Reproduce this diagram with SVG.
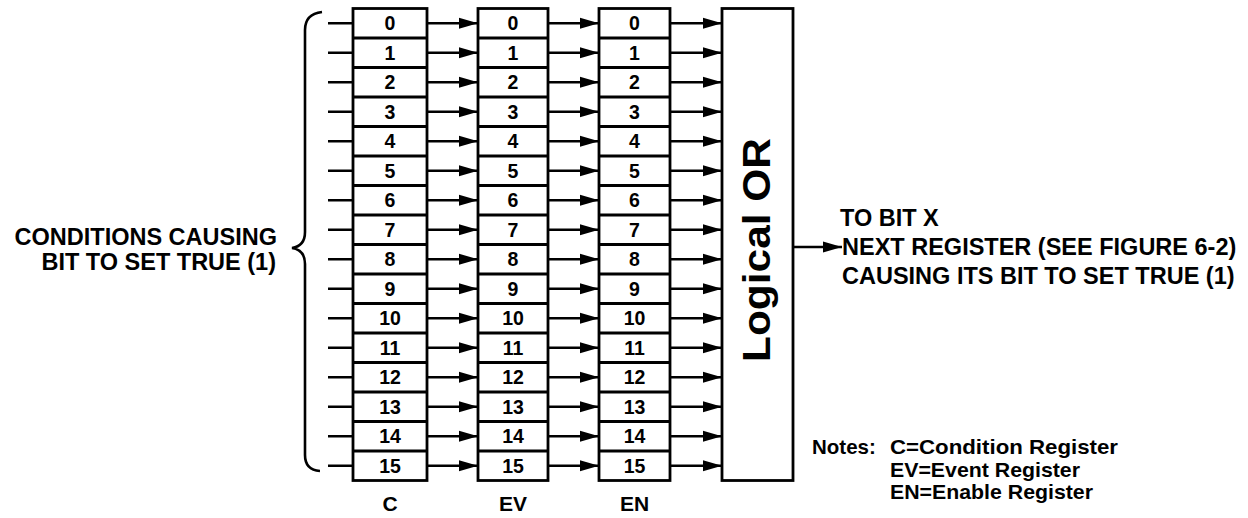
<svg xmlns="http://www.w3.org/2000/svg" width="1248" height="518" viewBox="0 0 1248 518">
<style>
.box{fill:#fff;stroke:#000;stroke-width:2.8}
.div{fill:none;stroke:#000;stroke-width:2.8}
.ln{fill:none;stroke:#000;stroke-width:2.6}
.arr{fill:none;stroke:#000;stroke-width:2.6;marker-end:url(#ah)}
text{font-family:"Liberation Sans",Arial,Helvetica,sans-serif;font-weight:bold;fill:#000}
.dg{font-size:19.5px;text-anchor:middle}
.lb{font-size:21px;text-anchor:middle}
.big{font-size:23.5px}
.note{font-size:20.5px}
</style>
<defs>
<marker id="ah" markerUnits="userSpaceOnUse" markerWidth="22" markerHeight="14" refX="19" refY="6" orient="auto">
<path d="M0,0.5 L19,6 L0,11.5 Z" fill="#000"/>
</marker>
</defs>
<rect width="1248" height="518" fill="#fff"/>

<g id="conditions-label">
<text class="big" x="277" y="245" text-anchor="end">CONDITIONS CAUSING</text>
<text class="big" x="276" y="270" text-anchor="end">BIT TO SET TRUE (1)</text>
</g>

<g id="brace">
<path class="ln" d="M322,12 Q305,14 305,30 L305,232 Q305,246 292,248 Q305,250 305,264 L305,455 Q305,470 320,471"/>
</g>

<g id="register-C">
<rect class="box" x="353" y="8.5" width="74" height="472"/>
<path class="div" d="M353,38H427M353,67.5H427M353,97H427M353,126.5H427M353,156H427M353,185.5H427M353,215H427M353,244.5H427M353,274H427M353,303.5H427M353,333H427M353,362.5H427M353,392H427M353,421.5H427M353,451H427"/>
<text class="dg" x="390" y="30">0</text><text class="dg" x="390" y="59.5">1</text><text class="dg" x="390" y="89">2</text><text class="dg" x="390" y="118.5">3</text><text class="dg" x="390" y="148">4</text><text class="dg" x="390" y="177.5">5</text><text class="dg" x="390" y="207">6</text><text class="dg" x="390" y="236.5">7</text><text class="dg" x="390" y="266">8</text><text class="dg" x="390" y="295.5">9</text><text class="dg" x="390" y="325">10</text><text class="dg" x="390" y="354.5">11</text><text class="dg" x="390" y="384">12</text><text class="dg" x="390" y="413.5">13</text><text class="dg" x="390" y="443">14</text><text class="dg" x="390" y="472.5">15</text>
<text class="lb" x="390" y="511">C</text>
</g>

<g id="register-EV">
<rect class="box" x="478" y="8.5" width="70" height="472"/>
<path class="div" d="M478,38H548M478,67.5H548M478,97H548M478,126.5H548M478,156H548M478,185.5H548M478,215H548M478,244.5H548M478,274H548M478,303.5H548M478,333H548M478,362.5H548M478,392H548M478,421.5H548M478,451H548"/>
<text class="dg" x="513" y="30">0</text><text class="dg" x="513" y="59.5">1</text><text class="dg" x="513" y="89">2</text><text class="dg" x="513" y="118.5">3</text><text class="dg" x="513" y="148">4</text><text class="dg" x="513" y="177.5">5</text><text class="dg" x="513" y="207">6</text><text class="dg" x="513" y="236.5">7</text><text class="dg" x="513" y="266">8</text><text class="dg" x="513" y="295.5">9</text><text class="dg" x="513" y="325">10</text><text class="dg" x="513" y="354.5">11</text><text class="dg" x="513" y="384">12</text><text class="dg" x="513" y="413.5">13</text><text class="dg" x="513" y="443">14</text><text class="dg" x="513" y="472.5">15</text>
<text class="lb" x="513" y="511">EV</text>
</g>

<g id="register-EN">
<rect class="box" x="599" y="8.5" width="71" height="472"/>
<path class="div" d="M599,38H670M599,67.5H670M599,97H670M599,126.5H670M599,156H670M599,185.5H670M599,215H670M599,244.5H670M599,274H670M599,303.5H670M599,333H670M599,362.5H670M599,392H670M599,421.5H670M599,451H670"/>
<text class="dg" x="634.5" y="30">0</text><text class="dg" x="634.5" y="59.5">1</text><text class="dg" x="634.5" y="89">2</text><text class="dg" x="634.5" y="118.5">3</text><text class="dg" x="634.5" y="148">4</text><text class="dg" x="634.5" y="177.5">5</text><text class="dg" x="634.5" y="207">6</text><text class="dg" x="634.5" y="236.5">7</text><text class="dg" x="634.5" y="266">8</text><text class="dg" x="634.5" y="295.5">9</text><text class="dg" x="634.5" y="325">10</text><text class="dg" x="634.5" y="354.5">11</text><text class="dg" x="634.5" y="384">12</text><text class="dg" x="634.5" y="413.5">13</text><text class="dg" x="634.5" y="443">14</text><text class="dg" x="634.5" y="472.5">15</text>
<text class="lb" x="634.5" y="511">EN</text>
</g>

<g id="logical-or">
<rect class="box" x="722" y="8.5" width="71" height="472"/>
<text transform="translate(770,362) rotate(-90)" x="0" y="0" font-size="39" textLength="224" lengthAdjust="spacingAndGlyphs">Logical OR</text>
</g>

<g id="output-label">
<text class="big" x="840" y="226">TO BIT X</text>
<text class="big" x="842" y="255">NEXT REGISTER (SEE FIGURE 6-2)</text>
<text class="big" x="842" y="284">CAUSING ITS BIT TO SET TRUE (1)</text>
</g>

<g id="notes">
<text class="note" x="812" y="454">Notes:</text>
<text class="note" x="890" y="454" textLength="228" lengthAdjust="spacingAndGlyphs">C=Condition Register</text>
<text class="note" x="890" y="476.5" textLength="190" lengthAdjust="spacingAndGlyphs">EV=Event Register</text>
<text class="note" x="890" y="499" textLength="203" lengthAdjust="spacingAndGlyphs">EN=Enable Register</text>
</g>

<g id="connectors">
<path class="ln" d="M328,23.25H353M328,52.75H353M328,82.25H353M328,111.75H353M328,141.25H353M328,170.75H353M328,200.25H353M328,229.75H353M328,259.25H353M328,288.75H353M328,318.25H353M328,347.75H353M328,377.25H353M328,406.75H353M328,436.25H353M328,465.75H353"/>
<line class="arr" x1="427" y1="23.25" x2="478" y2="23.25"/><line class="arr" x1="427" y1="52.75" x2="478" y2="52.75"/><line class="arr" x1="427" y1="82.25" x2="478" y2="82.25"/><line class="arr" x1="427" y1="111.75" x2="478" y2="111.75"/><line class="arr" x1="427" y1="141.25" x2="478" y2="141.25"/><line class="arr" x1="427" y1="170.75" x2="478" y2="170.75"/><line class="arr" x1="427" y1="200.25" x2="478" y2="200.25"/><line class="arr" x1="427" y1="229.75" x2="478" y2="229.75"/><line class="arr" x1="427" y1="259.25" x2="478" y2="259.25"/><line class="arr" x1="427" y1="288.75" x2="478" y2="288.75"/><line class="arr" x1="427" y1="318.25" x2="478" y2="318.25"/><line class="arr" x1="427" y1="347.75" x2="478" y2="347.75"/><line class="arr" x1="427" y1="377.25" x2="478" y2="377.25"/><line class="arr" x1="427" y1="406.75" x2="478" y2="406.75"/><line class="arr" x1="427" y1="436.25" x2="478" y2="436.25"/><line class="arr" x1="427" y1="465.75" x2="478" y2="465.75"/>
<line class="arr" x1="548" y1="23.25" x2="599" y2="23.25"/><line class="arr" x1="548" y1="52.75" x2="599" y2="52.75"/><line class="arr" x1="548" y1="82.25" x2="599" y2="82.25"/><line class="arr" x1="548" y1="111.75" x2="599" y2="111.75"/><line class="arr" x1="548" y1="141.25" x2="599" y2="141.25"/><line class="arr" x1="548" y1="170.75" x2="599" y2="170.75"/><line class="arr" x1="548" y1="200.25" x2="599" y2="200.25"/><line class="arr" x1="548" y1="229.75" x2="599" y2="229.75"/><line class="arr" x1="548" y1="259.25" x2="599" y2="259.25"/><line class="arr" x1="548" y1="288.75" x2="599" y2="288.75"/><line class="arr" x1="548" y1="318.25" x2="599" y2="318.25"/><line class="arr" x1="548" y1="347.75" x2="599" y2="347.75"/><line class="arr" x1="548" y1="377.25" x2="599" y2="377.25"/><line class="arr" x1="548" y1="406.75" x2="599" y2="406.75"/><line class="arr" x1="548" y1="436.25" x2="599" y2="436.25"/><line class="arr" x1="548" y1="465.75" x2="599" y2="465.75"/>
<line class="arr" x1="670" y1="23.25" x2="722" y2="23.25"/><line class="arr" x1="670" y1="52.75" x2="722" y2="52.75"/><line class="arr" x1="670" y1="82.25" x2="722" y2="82.25"/><line class="arr" x1="670" y1="111.75" x2="722" y2="111.75"/><line class="arr" x1="670" y1="141.25" x2="722" y2="141.25"/><line class="arr" x1="670" y1="170.75" x2="722" y2="170.75"/><line class="arr" x1="670" y1="200.25" x2="722" y2="200.25"/><line class="arr" x1="670" y1="229.75" x2="722" y2="229.75"/><line class="arr" x1="670" y1="259.25" x2="722" y2="259.25"/><line class="arr" x1="670" y1="288.75" x2="722" y2="288.75"/><line class="arr" x1="670" y1="318.25" x2="722" y2="318.25"/><line class="arr" x1="670" y1="347.75" x2="722" y2="347.75"/><line class="arr" x1="670" y1="377.25" x2="722" y2="377.25"/><line class="arr" x1="670" y1="406.75" x2="722" y2="406.75"/><line class="arr" x1="670" y1="436.25" x2="722" y2="436.25"/><line class="arr" x1="670" y1="465.75" x2="722" y2="465.75"/>
<line class="arr" x1="793" y1="247" x2="842" y2="247"/>
</g>
</svg>
